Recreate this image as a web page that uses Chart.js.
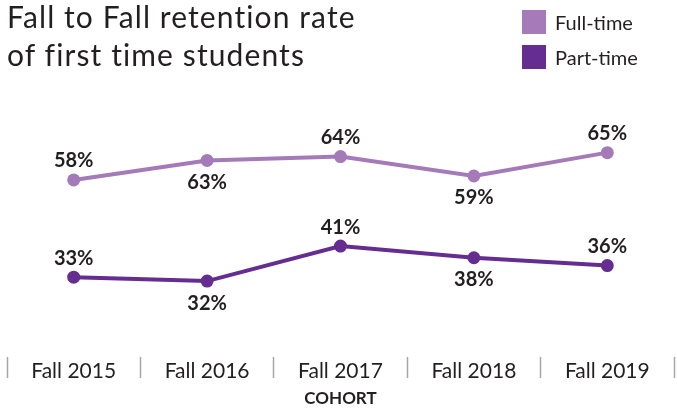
<!DOCTYPE html>
<html>
<head>
<meta charset="utf-8">
<script src="https://cdn.jsdelivr.net/npm/chart.js@4"></script>
<style>
  html, body { margin: 0; padding: 0; background: #fff; }
  #wrap { position: relative; width: 677px; height: 410px; font-family: Lato, sans-serif; color: #231f20; }
  #title { position: absolute; left: 7px; top: -3px; font-size: 30px; line-height: 38px; letter-spacing: 1.1px; }
  #legend { position: absolute; left: 522px; top: 10px; font-size: 20px; }
  .item { display: flex; align-items: center; height: 24px; margin-bottom: 11px; }
  .sw { width: 24px; height: 24px; margin-right: 9px; }
  canvas { position: absolute; left: 0; top: 0; }
</style>
</head>
<body>
<div id="wrap">
  <canvas id="c" width="677" height="410"></canvas>
  <div id="title">Fall to Fall retention rate<br>of first time students</div>
  <div id="legend"></div>
</div>
<script>
// ---------- data ----------
const cohorts = ['Fall 2015', 'Fall 2016', 'Fall 2017', 'Fall 2018', 'Fall 2019'];
const fullTime = [58, 63, 64, 59, 65];
const partTime = [33, 32, 41, 38, 36];
const seriesNames = ['Full-time', 'Part-time'];
const seriesColors = ['#a47ab8', '#662d91'];
// label above (1) or below (-1) the point
const labelSide = [1, -1, 1, -1, 1];

// legend (html)
const legendEl = document.getElementById('legend');
seriesNames.forEach((n, i) => {
    const d = document.createElement('div');
    d.className = 'item';
    d.innerHTML = '<span class="sw" style="background:' + seriesColors[i] + '"></span>' + n;
    legendEl.appendChild(d);
});

// simple value labels, no datalabels plugin here
const valueLabels = {
    id: 'valueLabels',
    afterDatasetsDraw(chart) {
        const ctx = chart.ctx;
        ctx.save();
        ctx.font = 'bold 20px Lato, sans-serif';
        ctx.fillStyle = '#231f20';
        ctx.textAlign = 'center';
        ctx.textBaseline = 'middle';
        chart.data.datasets.forEach((ds, i) => {
            chart.getDatasetMeta(i).data.forEach((pt, j) => {
                const dy = labelSide[j] > 0 ? -19 : 22;
                ctx.fillText(ds.data[j] + '%', pt.x, pt.y + dy);
            });
        });
        ctx.restore();
    }
};

const mkSet = (label, data, color) => ({
    label, data,
    borderColor: color,
    backgroundColor: color,
    borderWidth: 4,
    pointRadius: 4.5,
    pointHoverRadius: 4.5,
    tension: 0
});

new Chart(document.getElementById('c'), {
    type: 'line',
    data: {
        labels: cohorts,
        datasets: [
            mkSet(seriesNames[0], fullTime, seriesColors[0]),
            mkSet(seriesNames[1], partTime, seriesColors[1])
        ]
    },
    options: {
        responsive: false,
        animation: false,
        layout: { autoPadding: false, padding: { left: 7, right: 3, top: 104, bottom: 0 } },
        plugins: { legend: { display: false }, tooltip: { enabled: false } },
        scales: {
            y: { display: false, min: 12.5, max: 77.5 },
            x: {
                offset: true,
                afterFit: (s) => { s.height = 53; },
                border: { display: false },
                grid: {
                    offset: true,
                    drawOnChartArea: false,
                    tickLength: 21,
                    tickWidth: 1.5,
                    tickColor: '#a6a6a6'
                },
                ticks: {
                    padding: -19,
                    color: '#231f20',
                    font: { family: 'Lato, sans-serif', size: 21 }
                },
                title: {
                    display: true,
                    text: 'COHORT',
                    color: '#231f20',
                    font: { family: 'Lato, sans-serif', size: 17, weight: 'bold' },
                    padding: { top: 0, bottom: 1 }
                }
            }
        }
    },
    plugins: [valueLabels]
});
</script>
</body>
</html>
